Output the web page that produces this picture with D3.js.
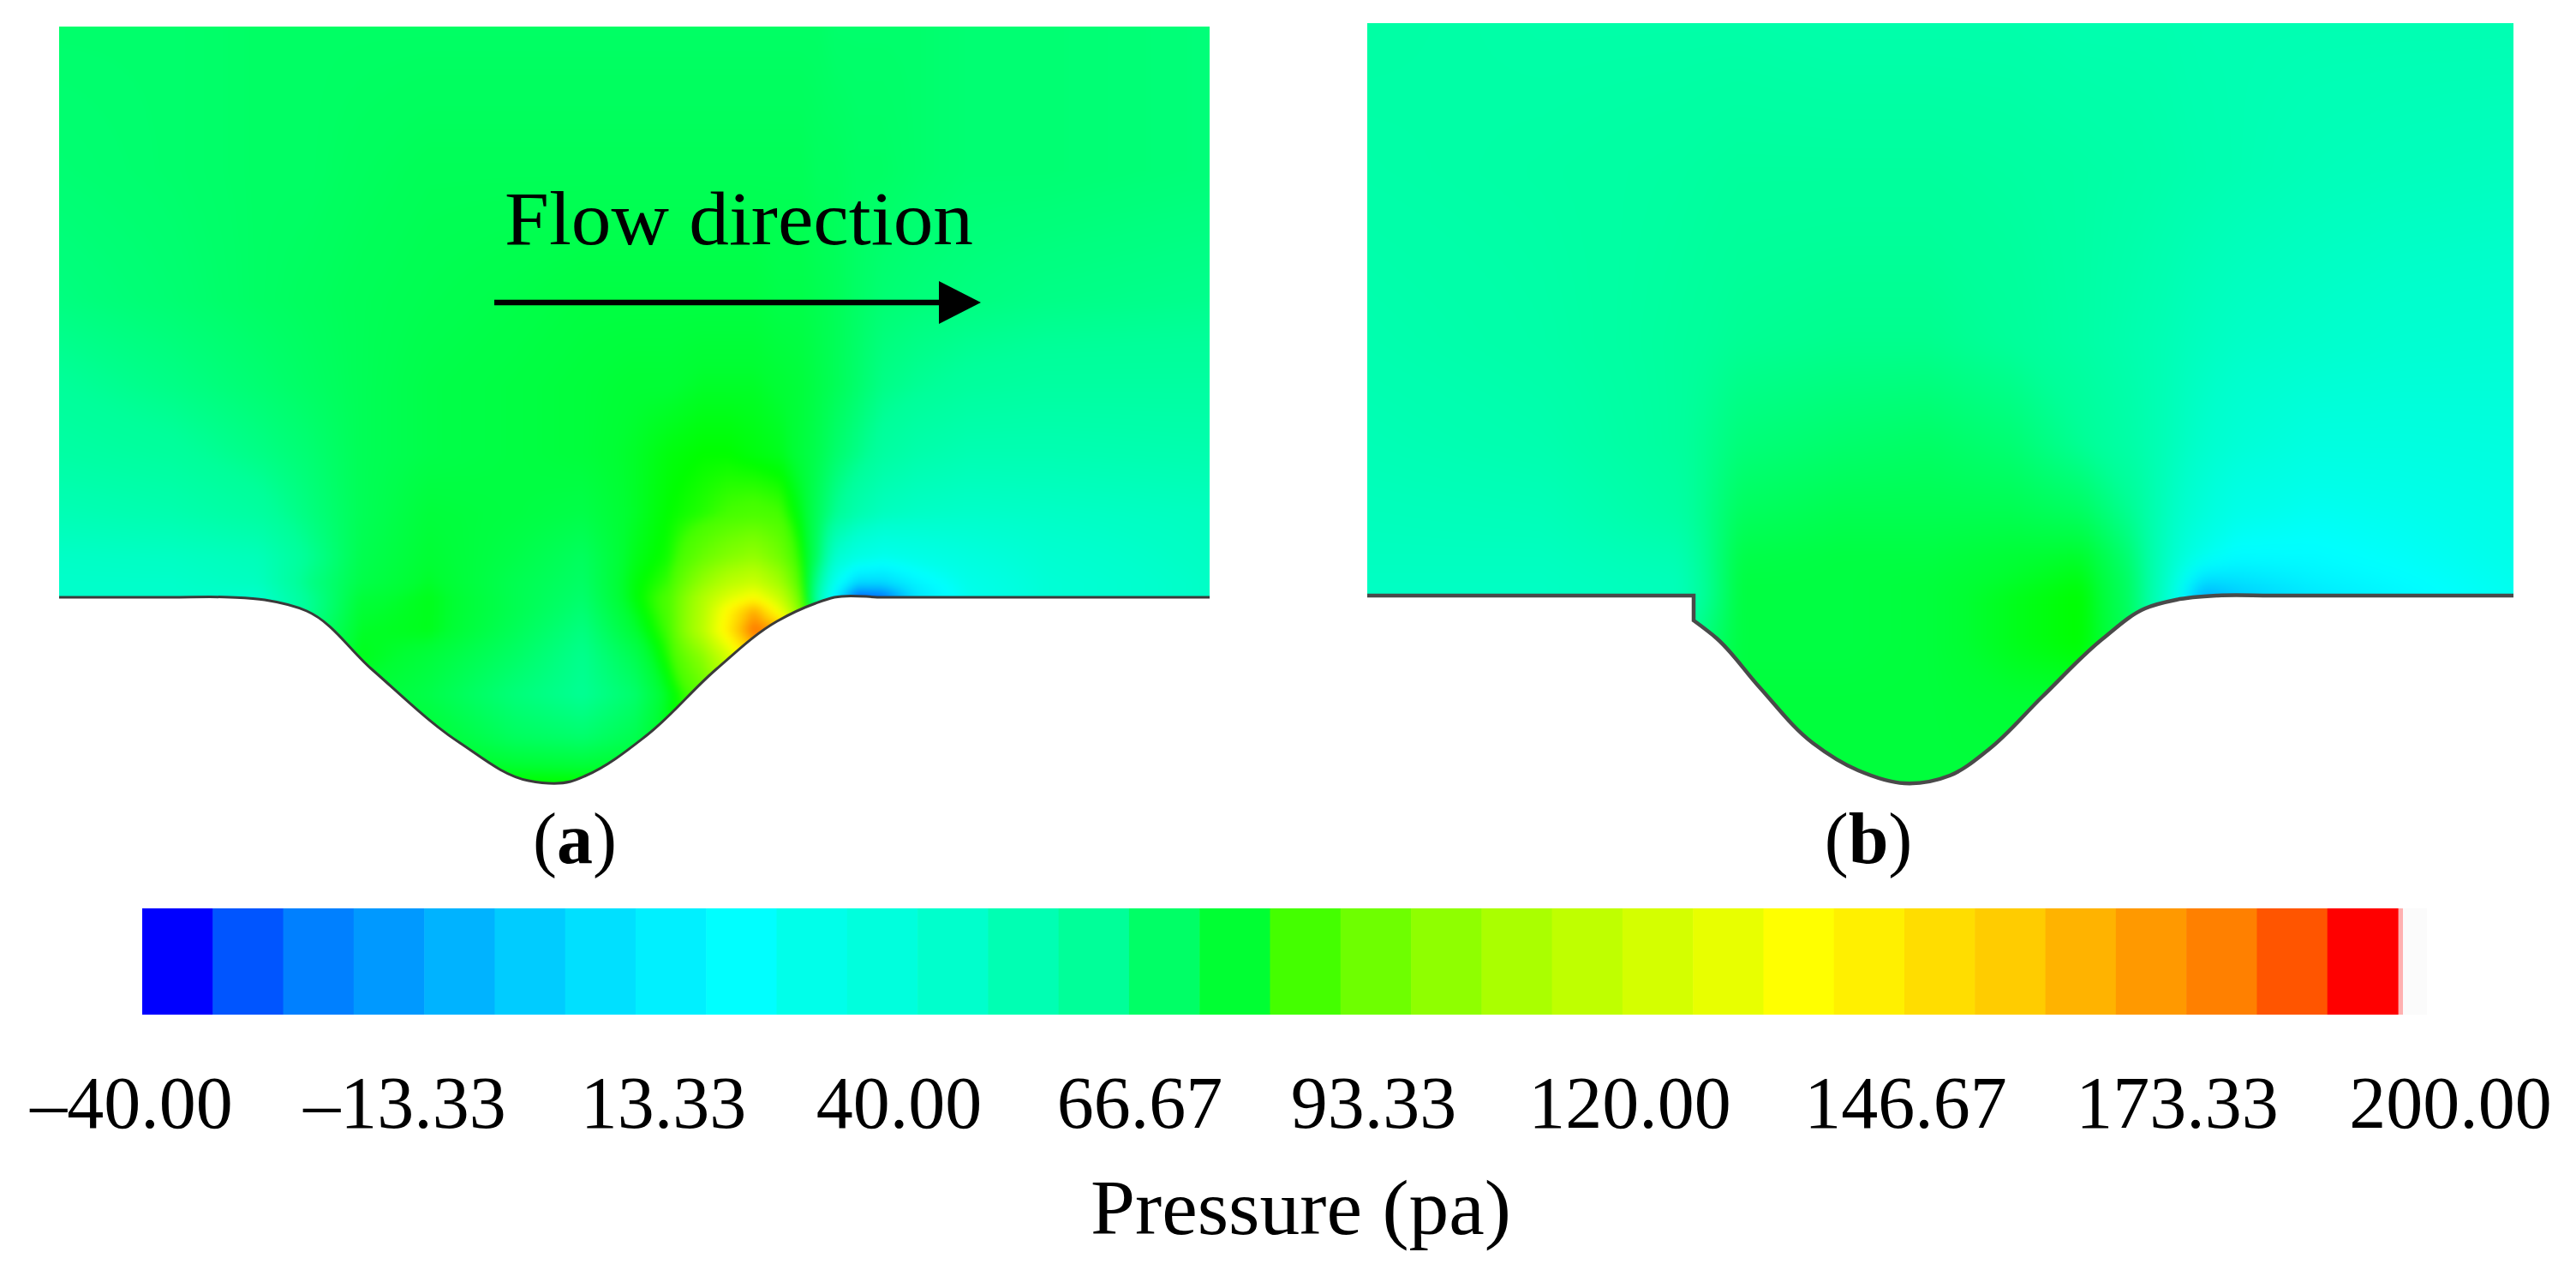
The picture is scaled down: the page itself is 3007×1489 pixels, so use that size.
<!DOCTYPE html>
<html><head><meta charset="utf-8">
<style>html,body{margin:0;padding:0;background:#fff}#wrap{position:relative;width:3007px;height:1489px;overflow:hidden}canvas,svg{position:absolute;left:0;top:0}
text{font-family:"Liberation Serif",serif;fill:#000}</style>
<script src="https://cdn.jsdelivr.net/npm/d3@7"></script></head>
<body><div id="wrap"><canvas id="cv" width="3007" height="1489"></canvas><svg id="sv" width="3007" height="1489"></svg></div>
<script>
// ---- colour legend ----
const tickLabels=["\u201340.00","\u201313.33","13.33","40.00","66.67","93.33","120.00","146.67","173.33","200.00"];
const pressureMin=-40, pressureMax=200, pureGreenAt=80;
const bandColors=["#0000ff","#0055ff","#0080ff","#0099ff","#00b3ff","#00ccff","#00e0ff","#00f0ff","#00ffff","#00ffea","#00ffdd","#00ffcc","#00ffb3","#00ff99","#00ff66","#00ff33","#44ff00","#6eff00","#8fff00","#aaff00","#bfff00","#d4ff00","#e8ff00","#ffff00","#fff000","#ffdd00","#ffcc00","#ffb300","#ff9900","#ff8000","#ff5500","#ff0000"];

// ---- panel (a): sampled pressure, rows follow aY, columns follow aX ----
const aX=[69,200,300,360,420,500,600,680,740,780,820,850,880,910,935,955,975,1000,1030,1070,1130,1220,1412];
const aY=[31,200,350,450,530,600,650,680,697,712,735,765,810,860,912];
const aP=[
[68,68,69,69,69,69,69,69,69,69,69,69,69,69,69,69,68,68,68,68,67,67,66],
[67,68,69,69,70,71,71,71,71,71,71,71,71,71,71,70,70,69,69,68,67,67,66],
[65,67,69,70,71,72,73,74,74,74,74,74,74,73,73,72,71,69,67,66,65,64,63],
[61,64,67,69,71,73,74,75,76,76,77,77,77,76,75,73,71,68,64,62,60,59,59],
[58,60,64,67,71,73,74,75,77,79,80,80,79,78,75,72,68,64,59,56,54,54,55],
[53,55,59,65,71,75,74,73,77,80,82,84,85,84,78,70,62,55,50,48,47,48,50],
[48,49,52,62,72,76,73,70,78,81,90,96,100,92,81,68,45,35,30,33,38,44,49],
[47,47,50,64,73,77,72,69,79,83,100,112,118,104,84,60,28,5,5,18,32,42,48],
[47,47,46,62,75,78,72,68,79,85,108,125,137,116,88,55,15,-28,-25,10,30,42,48],
[47,47,47,62,76,78,72,67,78,85,110,140,168,130,92,60,20,-28,-25,10,30,42,48],
[47,47,50,65,77,78,71,65,76,84,112,146,185,170,100,60,20,-28,-25,10,30,42,48],
[50,50,55,70,78,75,69,63,72,82,98,122,155,155,110,60,20,-28,-25,10,30,42,48],
[60,60,62,70,76,73,66,62,68,78,88,100,100,100,100,60,20,-28,-25,10,30,42,48],
[70,70,72,74,76,76,70,68,72,79,85,85,85,85,85,60,20,-28,-25,10,30,42,48],
[78,78,78,78,79,80,80,80,80,80,80,80,80,80,80,60,20,-28,-25,10,30,42,48]];
const aWallX=[69,200,269,309,358,434,537,617,666,684,755,836,907,952,974,1030,1412];
const aWallY=[697,697,697,700,713,781,867,911,912,905,858,781,725,704,697,697,697];

// ---- panel (b) ----
const bX=[1596,1800,1960,2030,2150,2250,2350,2430,2490,2530,2570,2610,2700,2800,2934];
const bY=[27,200,400,520,600,650,680,695,750,820,913];
const bP=[
[58,57,57,57,56,56,56,55,55,55,54,54,54,54,54],
[57,58,59,60,60,60,59,58,57,56,55,54,52,51,50],
[55,57,60,62,63,63,61,58,55,53,50,48,46,44,43],
[53,55,60,66,68,69,67,62,57,52,46,42,37,37,38],
[51,52,58,70,72,72,72,70,62,50,40,32,28,30,34],
[50,50,54,73,74,74,76,77,66,48,30,22,22,26,32],
[49,49,52,74,74,75,77,79,68,46,5,8,17,22,30],
[49,49,52,74,74,75,78,80,68,45,-10,0,12,20,29],
[50,50,60,74,74,75,78,80,70,45,-10,0,12,20,29],
[60,60,70,75,75,75,76,76,70,45,-10,0,12,20,29],
[75,75,75,75,75,75,75,75,70,45,-10,0,12,20,29]];
const bWallX=[1596,1800,1950,1977,1977,1977,1977,2004,2053,2116,2169,2223,2276,2321,2384,2455,2504,2540,2589,2650,2934];
const bWallY=[695,695,695,695,695,724,724,745,801,867,899,914,905,875,813,745,710,700,695,695,695];

const aTop=31, bTop=27;

// ---- scales ----
const bandScale=d3.scaleBand(d3.range(bandColors.length),[166,2799]);
const bandStops=bandColors.map((c,i)=>pressureMin+(i+.5)*(pressureMax-pressureMin)/bandColors.length);
const splitAt=d3.bisect(bandStops,pureGreenAt);
const colorScale=d3.scaleLinear(
  [...bandStops.slice(0,splitAt),pureGreenAt,...bandStops.slice(splitAt)],
  [...bandColors.slice(0,splitAt),"#00ff00",...bandColors.slice(splitAt)]).clamp(true);
const labelCenters=[153,472,774,1049,1330,1603,1902,2224,2541,2860];
const labelScale=d3.scaleOrdinal(tickLabels,labelCenters);

// ---- field drawing ----
const ctx=document.getElementById('cv').getContext('2d');
ctx.fillStyle='#fff';ctx.fillRect(0,0,3007,1489);
const lerp=(a,b,t)=>a+(b-a)*t;

function sampler(xs,ys,vals){
  const ix=d3.scaleLinear(xs,d3.range(xs.length)).clamp(true);
  const iy=d3.scaleLinear(ys,d3.range(ys.length)).clamp(true);
  return (x,y)=>{
    const fx=ix(x),fy=iy(y);
    const i=Math.min(Math.floor(fx),xs.length-2),j=Math.min(Math.floor(fy),ys.length-2);
    const tx=fx-i,ty=fy-j;
    return lerp(lerp(vals[j][i],vals[j][i+1],tx),lerp(vals[j+1][i],vals[j+1][i+1],tx),ty);
  };
}
const wall=d3.line().curve(d3.curveCatmullRom.alpha(1));
function drawField(xs,ys,vals,wx,wy,top,blur){
  const p=sampler(xs,ys,vals);
  const m=30,x0=xs[0]-m,y0=ys[0]-m,w=xs[xs.length-1]-xs[0]+2*m,h=ys[ys.length-1]-ys[0]+2*m;
  const off=document.createElement('canvas');off.width=w;off.height=h;
  const oc=off.getContext('2d'),img=oc.createImageData(w,h);
  const cache=new Map();
  for(let yy=0;yy<h;yy++)for(let xx=0;xx<w;xx++){
    const v=Math.round(p(x0+xx,y0+yy)*4);
    let c=cache.get(v);
    if(!c){c=d3.rgb(colorScale(v/4));cache.set(v,c);}
    const k=(yy*w+xx)*4;
    img.data[k]=c.r;img.data[k+1]=c.g;img.data[k+2]=c.b;img.data[k+3]=255;
  }
  oc.putImageData(img,0,0);
  const outline=wall(d3.zip(wx,wy))+`L${wx[wx.length-1]},${top}L${wx[0]},${top}Z`;
  ctx.save();
  ctx.clip(new Path2D(outline));
  ctx.filter=`blur(${blur}px)`;
  ctx.drawImage(off,x0,y0);
  ctx.restore();
}
drawField(aX,aY,aP,aWallX,aWallY,aTop,4);
drawField(bX,bY,bP,bWallX,bWallY,bTop,9);

// ---- svg overlay ----
const svg=d3.select('#sv');
svg.append('path').attr('d',wall(d3.zip(aWallX,aWallY))).attr('fill','none').attr('stroke','#3a3a3a').attr('stroke-width',3);
svg.append('path').attr('d',wall(d3.zip(bWallX,bWallY))).attr('fill','none').attr('stroke','#4a4a4a').attr('stroke-width',4.5);

// flow annotation
svg.append('text').attr('x',589).attr('y',285).attr('font-size',88).attr('textLength',547).attr('lengthAdjust','spacingAndGlyphs').text('Flow direction');
svg.append('line').attr('x1',577).attr('x2',1098).attr('y1',353).attr('y2',353).attr('stroke','#000').attr('stroke-width',6.5);
svg.append('path').attr('d',d3.line()([[1096,328],[1145,353],[1096,378]])+'Z').attr('fill','#000');

// sub-labels
[["a",671],["b",2181]].forEach(([t,x])=>{
  const tx=svg.append('text').attr('x',x).attr('y',1007).attr('font-size',84).attr('text-anchor','middle');
  tx.append('tspan').text('(');
  tx.append('tspan').attr('font-weight','bold').text(t);
  tx.append('tspan').text(')');
});

// colour bar
svg.append('rect').attr('x',2805).attr('y',1060).attr('width',28).attr('height',124).attr('fill','#fbfbfb');
svg.append('rect').attr('x',2799).attr('y',1060).attr('width',6).attr('height',124).attr('fill','#ffb0b0');
svg.append('g').selectAll('rect').data(bandColors).join('rect')
  .attr('x',(d,i)=>bandScale(i)).attr('y',1060).attr('width',bandScale.bandwidth()+.6).attr('height',124).attr('fill',d=>d);

// tick labels through a d3 axis
const ax=svg.append('g').attr('transform','translate(0,1256)')
  .call(d3.axisBottom(labelScale).tickSize(0).tickPadding(0));
ax.select('.domain').remove();
ax.selectAll('text').attr('font-size',86).attr('dy',0).attr('y',60).style('font-family','"Liberation Serif",serif').attr('fill','#000');
ax.attr('font-family','"Liberation Serif",serif');

svg.append('text').attr('x',1273).attr('y',1440).attr('font-size',90).attr('textLength',491).attr('lengthAdjust','spacingAndGlyphs').text('Pressure (pa)');
</script></body></html>
